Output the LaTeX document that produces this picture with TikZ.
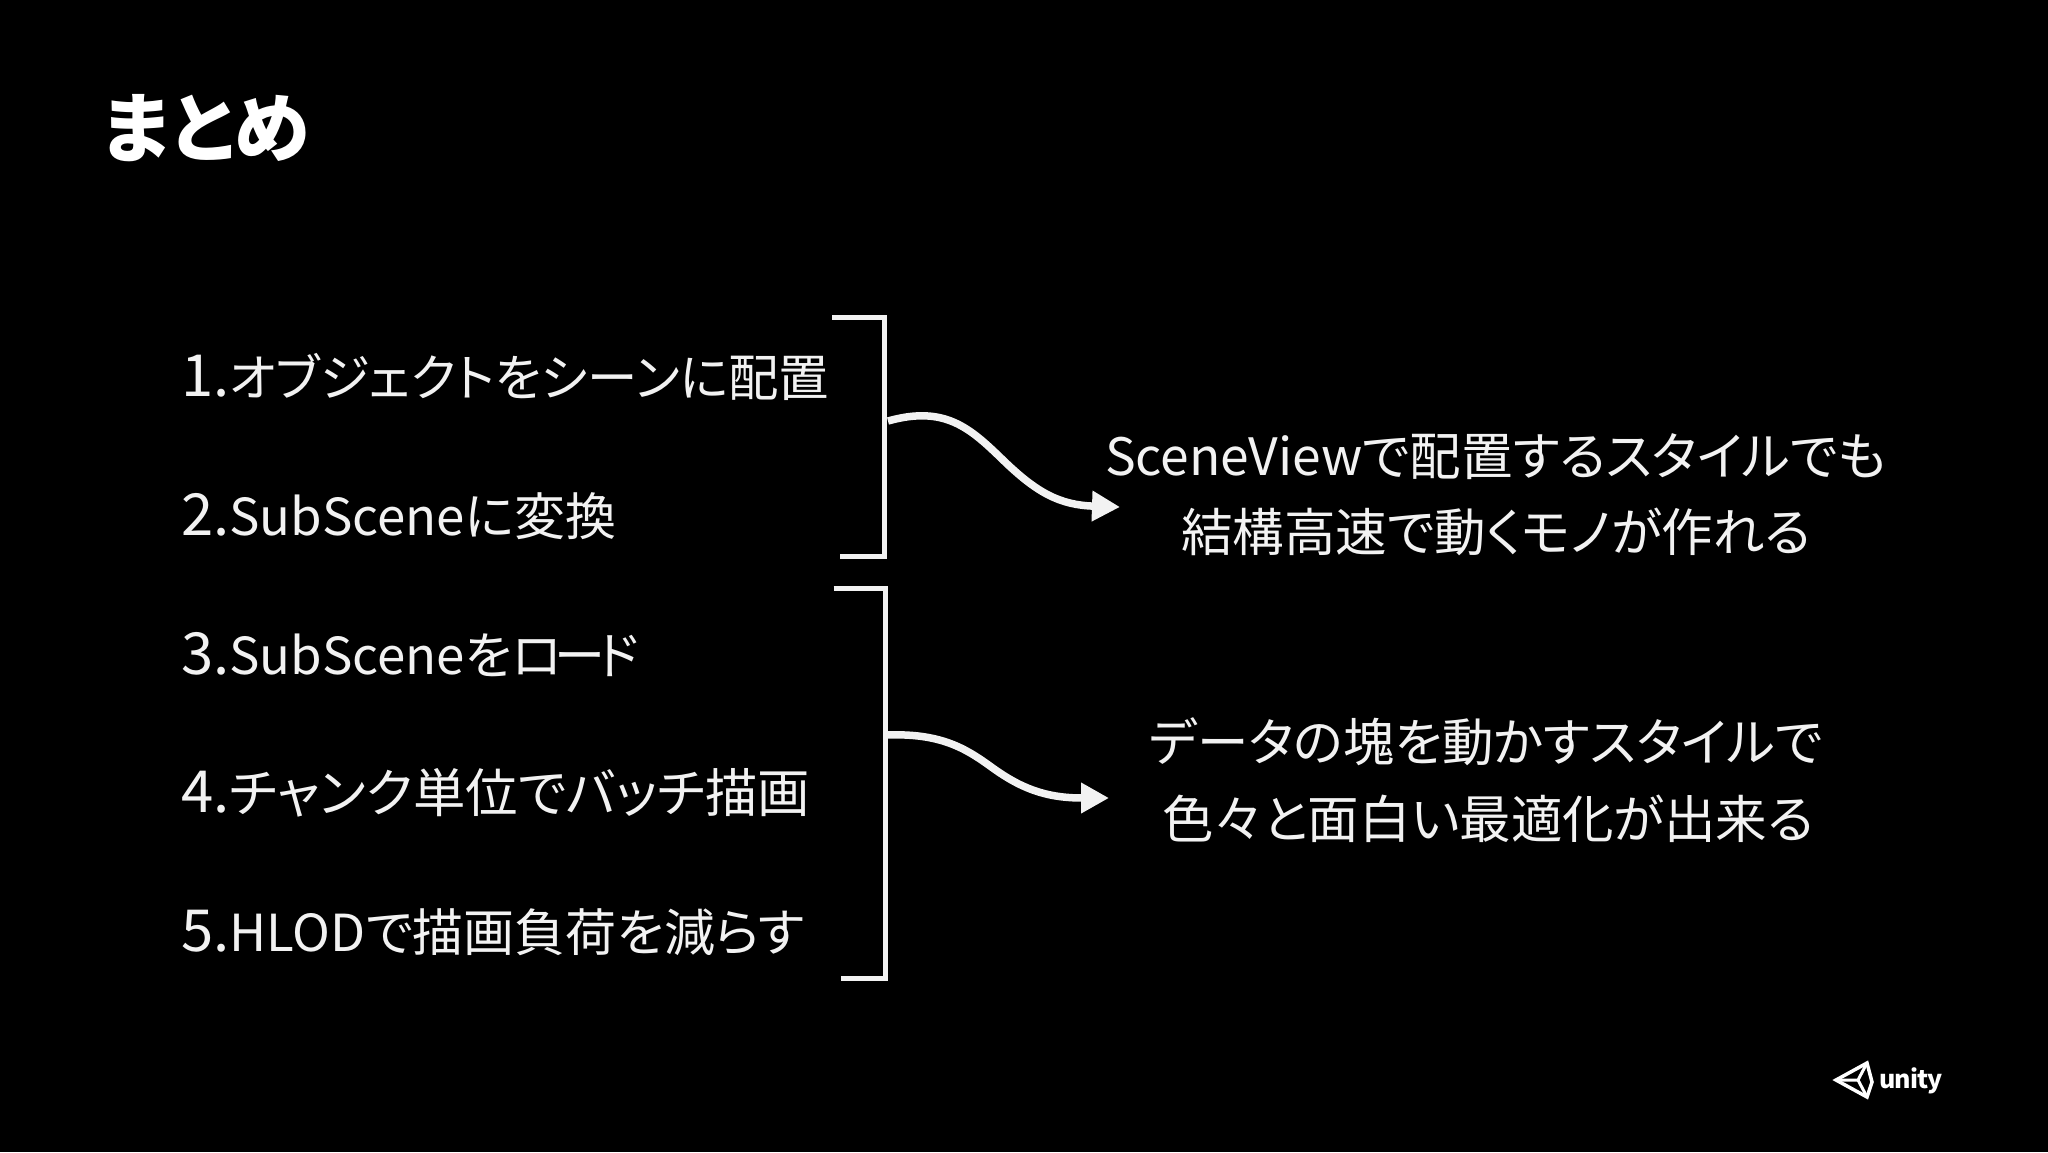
\documentclass[tikz,border=0pt]{standalone}
\usepackage{fontspec}
\setmainfont[RawFeature=+palt]{Noto Sans CJK JP}
\usetikzlibrary{arrows.meta}
\definecolor{ink}{HTML}{F2F2F2}
\tikzset{
  listitem/.style={anchor=base west,inner sep=0pt,text=ink,font=\fontsize{51}{51}\selectfont},
  result/.style={anchor=base,inner sep=0pt,text=ink,font=\fontsize{51.5}{52}\selectfont},
  titletext/.style={anchor=base west,inner sep=0pt,text=white,font=\fontsize{76}{76}\selectfont\bfseries},
  bracketline/.style={draw=ink,line width=5pt,line cap=butt,line join=miter},
  flow/.style={draw=ink,line width=7.5pt,-{Triangle[length=28pt,width=29pt]}},
  logoline/.style={draw=white,line width=3pt,line join=miter}
}
\newcommand{\bignum}[1]{{\fontsize{58}{58}\selectfont #1}}
\begin{document}
\begin{tikzpicture}[x=1pt,y=-1pt]
\useasboundingbox (0,0) rectangle (2048,1152);
\fill[black] (0,0) rectangle (2048,1152);
\node[titletext] (title) at (102,156.5) {まとめ};
\node[listitem,font=\fontsize{50.4}{51}\selectfont] (l1) at (181,396.5) {\bignum{1.}オブジェクトをシーンに配置};
\node[listitem] (l2) at (181,535) {\bignum{2.}SubSceneに変換};
\node[listitem] (l3) at (181,674) {\bignum{3.}SubSceneをロ\kern-7ptー\kern-7ptド};
\node[listitem,font=\fontsize{52.4}{53}\selectfont] (l4) at (181,812.5) {\bignum{4.}チャンク単位でバッチ描画};
\node[listitem] (l5) at (181,951) {\bignum{5.}HLODで描画負荷を減らす};
\node[result] (r1) at (1496,475) {SceneViewで配置するスタイルでも};
\node[result] (r2) at (1496,551) {結構高速で動くモノが作れる};
\node[result] (r3) at (1486,761) {データの塊を動かすスタイルで};
\node[result] (r4) at (1488,838) {色々と面白い最適化が出来る};
\coordinate (b1a) at (832,317.5);
\coordinate (b1b) at (884.5,317.5);
\coordinate (b1c) at (884.5,556.5);
\coordinate (b1d) at (840,556.5);
\coordinate (b2a) at (833.5,588.5);
\coordinate (b2b) at (885.5,588.5);
\coordinate (b2c) at (885.5,978.5);
\coordinate (b2d) at (841,978.5);
\draw[bracketline] (b1a) -- (b1b) -- (b1c) -- (b1d);
\draw[bracketline] (b2a) -- (b2b) -- (b2c) -- (b2d);
\coordinate (a1s) at (888,421);
\coordinate (a1e) at (1120,507);
\coordinate (a2s) at (887,735);
\coordinate (a2e) at (1109,798);
\draw[flow] (a1s) .. controls (945,405) and (970,428) .. (1003,460) .. controls (1037,493) and (1060,505) .. (a1e);
\draw[flow] (a2s) .. controls (940,733) and (965,748) .. (990,766) .. controls (1020,788) and (1045,798) .. (a2e);
% logo
\draw[logoline,line width=3.5pt] (1836,1080) -- (1867,1063) -- (1872,1082) -- (1867,1097) -- cycle;
\draw[logoline] (1836,1080) -- (1858,1080) -- (1867,1063);
\draw[logoline] (1858,1080) -- (1867,1097);
\node[anchor=base west,inner sep=0pt,text=white,font=\fontsize{25}{25}\selectfont] (logo) at (1879,1088) {\addfontfeature{LetterSpace=-4}\textbf{unity}};
\end{tikzpicture}
\end{document}
